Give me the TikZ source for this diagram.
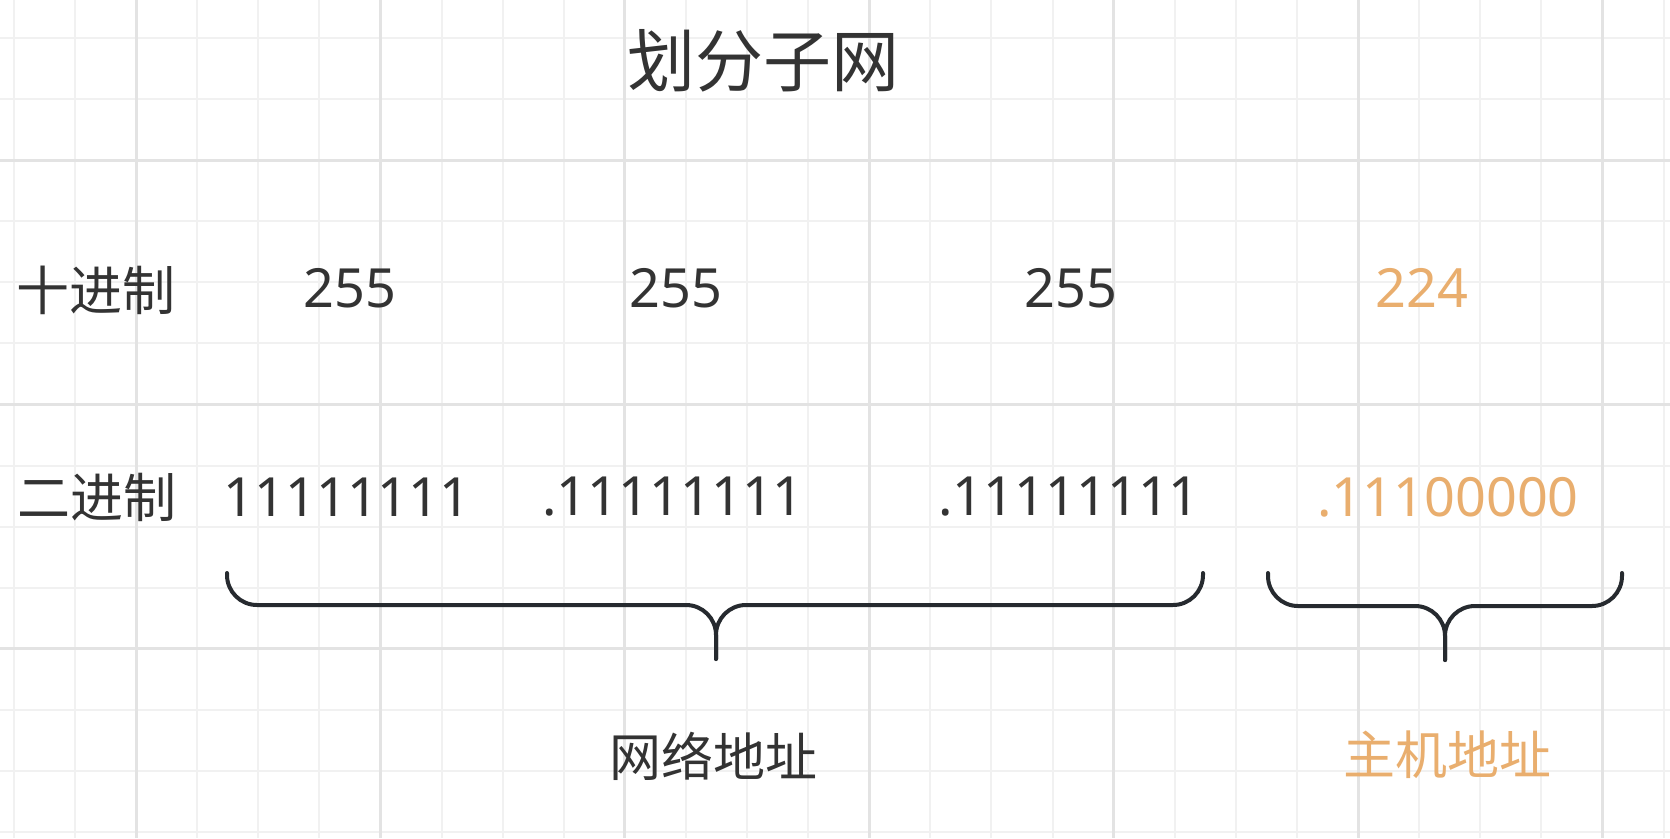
\documentclass[tikz,border=0pt]{standalone}
\usepackage{fontspec}
\setmainfont{Noto Sans CJK SC}
\newfontfamily\digitfont{Noto Sans}
\usepackage{xcolor}
\usetikzlibrary{positioning}

\definecolor{gridminor}{HTML}{F1F1F1}
\definecolor{gridmajor}{HTML}{E3E3E3}
\definecolor{txtgray}{HTML}{333333}
\definecolor{hostorange}{HTML}{E9AE6E}
\definecolor{bracegray}{HTML}{262A2F}

\begin{document}
\begin{tikzpicture}[
    x=1pt, y=-1pt,
    minor/.style={draw=gridminor, line width=2pt},
    major/.style={draw=gridmajor, line width=3pt},
    title/.style={inner sep=0pt, text=txtgray, font=\fontsize{68}{74}\selectfont},
    rowlbl/.style={inner sep=0pt, text=txtgray, font=\fontsize{53}{60}\selectfont},
    num/.style={inner sep=0pt, text=txtgray, font=\digitfont\fontsize{54}{60}\selectfont},
    hostnum/.style={num, text=hostorange},
    part/.style={rowlbl, font=\fontsize{52}{60}\selectfont},
    brace/.style={draw=bracegray, line width=4pt, line cap=round, line join=round, rounded corners=30pt}
]
\useasboundingbox[fill=white] (0,0) rectangle (1670,838);

% Grid
\foreach \i in {0,...,27} \draw[minor] ({13.8+61.1*\i},0) -- ++(0,838);
\foreach \j in {0,...,13} \draw[minor] (0,{37.8+61.1*\j}) -- ++(1670,0);
\foreach \i in {2,6,...,26} \draw[major] ({13.8+61.1*\i},0) -- ++(0,838);
\foreach \j in {2,6,10} \draw[major] (0,{37.8+61.1*\j}) -- ++(1670,0);

\node[title] (head) at (763,61) {划分子网};

% Decimal row
\node[rowlbl] (dec) at (96,290) {十进制};
\node[num] (d1) at (350,288) {255};
\node[num] (d2) at (676,288) {255};
\node[num] (d3) at (1071,288) {255};
\node[hostnum] (d4) at (1422,288) {224};

% Binary row
\node[rowlbl] (bin) at (97,497) {二进制};
\node[num] (b1) at (347,497) {11111111};
\node[num] (b2) at (673,497) {.11111111};
\node[num] (b3) at (1069,497) {.11111111};
\node[hostnum] (b4) at (1448,497) {.11100000};

% Braces
\coordinate (netL) at (227,573);
\coordinate (netR) at (1203,573);
\coordinate (netTip) at (716,659);
\coordinate (hostL) at (1268,573);
\coordinate (hostR) at (1622,573);
\coordinate (hostTip) at (1445,660);

\draw[brace] (netL) -- (netL |- 0,605) -- (netTip |- 0,605) -- (netTip);
\draw[brace] (netTip) -- (netTip |- 0,605) -- (netR |- 0,605) -- (netR);
\draw[brace] (hostL) -- (hostL |- 0,606) -- (hostTip |- 0,606) -- (hostTip);
\draw[brace] (hostTip) -- (hostTip |- 0,606) -- (hostR |- 0,606) -- (hostR);

\node[part] (net) at (713,756) {网络地址};
\node[part, text=hostorange] (host) at (1447,755) {主机地址};

\end{tikzpicture}
\end{document}
